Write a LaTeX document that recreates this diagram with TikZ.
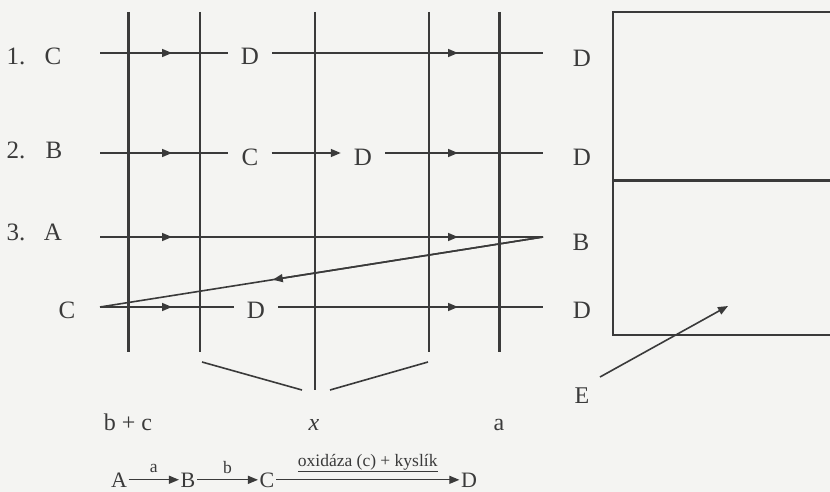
\documentclass[tikz,border=0pt]{standalone}
\usepackage{fontspec}
\setmainfont{Liberation Serif}
\usetikzlibrary{arrows.meta, calc}
\definecolor{ink}{HTML}{3A3A3A}
\definecolor{paper}{HTML}{F4F4F2}
\tikzset{
  lettr/.style={inner ysep=0pt, inner xsep=13pt, anchor=base, text=ink, font=\fontsize{25}{25}\selectfont},
  lowlbl/.style={inner sep=0pt, anchor=base, text=ink, font=\fontsize{24}{24}\selectfont},
  eqlettr/.style={inner ysep=0pt, inner xsep=1.5pt, anchor=base, text=ink, font=\fontsize{22}{22}\selectfont},
  small/.style={inner sep=0pt, text=ink, font=\fontsize{17.5}{17.5}\selectfont},
  wire/.style={draw=ink, line width=1.6pt},
  wall/.style={draw=ink, line width=3pt},
}
\begin{document}
\begin{tikzpicture}[x=1pt, y=-1pt, >={Triangle[length=10pt, width=8pt]}]
  \useasboundingbox[fill=paper] (0,0) rectangle (830,492);

  % svisle cary
  \foreach \x/\s in {128/wall, 200/wire, 429/wire, 499/wall}
    \draw[\s] (\x,12) -- (\x,352);
  \draw[wire, line width=2pt] (315,12) -- (315,390);
  \draw[wire] (202,362) -- (302,390);
  \draw[wire] (330,390) -- (428,362);

  % zacatky a konce radku
  \coordinate (s1) at (100,53);  \coordinate (e1) at (543,53);
  \coordinate (s2) at (100,153); \coordinate (e2) at (543,153);
  \coordinate (s3) at (100,237); \coordinate (e3) at (543,237);
  \coordinate (s4) at (100,307); \coordinate (e4) at (543,307);

  % 1. radek
  \node[lettr] (num1) at (16,65) {1.};
  \node[lettr] (c1) at (53,65) {C};
  \node[lettr] (d1) at (250,65) {D};
  \node[lettr] (d1r) at (582,67) {D};
  \draw[wire] (s1) -- (d1.west |- s1);
  \draw[wire] (d1.east |- s1) -- (e1);

  % 2. radek
  \node[lettr] (num2) at (16,158) {2.};
  \node[lettr] (b2) at (54,158) {B};
  \node[lettr] (c2) at (250,165) {C};
  \node[lettr] (d2) at (363,165) {D};
  \node[lettr] (d2r) at (582,165) {D};
  \draw[wire] (s2) -- (c2.west |- s2);
  \draw[wire, ->] (c2.east |- s2) -- (d2.west |- s2);
  \draw[wire] (d2.east |- s2) -- (e2);

  % 3. radek
  \node[lettr] (num3) at (16,240) {3.};
  \node[lettr] (a3) at (53,240) {A};
  \node[lettr] (b3r) at (581,250) {B};
  \draw[wire] (s3) -- (e3) -- (s4);
  \draw[wire, ->] (e3) -- ($(e3)!0.61!(s4)$);

  % 4. radek
  \node[lettr] (c4) at (67,318) {C};
  \node[lettr] (d4) at (256,318) {D};
  \node[lettr] (d4r) at (582,318) {D};
  \draw[wire] (s4) -- (d4.west |- s4);
  \draw[wire] (d4.east |- s4) -- (e4);

  % sipky uprostred radku
  \foreach \r in {1,...,4} {
    \draw[wire, ->] (s\r) -- ++(72,0);
    \draw[wire, ->] ([xshift=-110pt]e\r) -- ([xshift=-85pt]e\r);
  }

  % popisky dole
  \node[lowlbl] (bc) at (128,430) {b + c};
  \node[lowlbl] (xx) at (314,430) {\textit{x}};
  \node[lowlbl] (aa) at (499,430) {a};
  \node[lowlbl] (ee) at (582,403) {E};
  \draw[wire, ->] (600,377) -- (728,306);

  % ramecek vpravo
  \draw[wire] (830,12) -- (613,12) -- (613,335) -- (830,335);
  \draw[wall] (613,180) -- (830,180);

  % rovnice
  \node[eqlettr] (eA) at (119,487) {A};
  \node[eqlettr] (eB) at (188,487) {B};
  \node[eqlettr] (eC) at (267,487) {C};
  \node[eqlettr] (eD) at (469,487) {D};
  \draw[wire, line width=1.2pt, ->] (eA.east) -- (eB.west |- eA.east) node[small, midway, above=6pt] {a};
  \draw[wire, line width=1.2pt, ->] (eB.east) -- (eC.west |- eB.east) node[small, midway, above=6pt] {b};
  \draw[wire, line width=1.2pt, ->] (eC.east |- eB.east) -- (eD.west |- eB.east)
    node[small, midway, above=7pt] {\underline{oxidáza (c) + kyslík}};
\end{tikzpicture}
\end{document}
